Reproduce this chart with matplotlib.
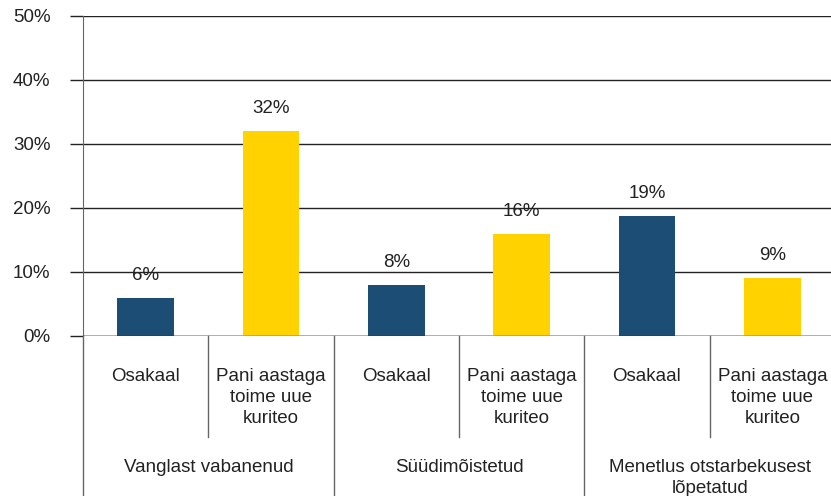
import matplotlib.pyplot as plt
import matplotlib.transforms as mtransforms
import numpy as np

plt.rcParams['font.family'] = ['Liberation Sans', 'DejaVu Sans']

# data
sub_labels = ['Osakaal', 'Pani aastaga\ntoime uue\nkuriteo'] * 3
groups = ['Vanglast vabanenud', 'Süüdimõistetud', 'Menetlus otstarbekusest\nlõpetatud']
values = [6, 32, 8, 16, 18.8, 9]
value_labels = ['6%', '32%', '8%', '16%', '19%', '9%']
bar_colors = ['#1b4d75', '#ffd200'] * 3

fig = plt.figure(figsize=(8.31, 4.96), dpi=100)
ax = fig.add_axes([83 / 831, 1 - 336 / 496, 752 / 831, 320 / 496])

x = np.arange(len(values))
ax.bar(x, values, width=0.45, color=bar_colors, zorder=3)
for xi, v, lab in zip(x, values, value_labels):
    ax.text(xi, v + 3.5, lab, ha='center', va='center', fontsize=13.5, color='#222222')

ax.set_xlim(-0.5, len(values) - 0.5)
ax.set_ylim(0, 50)
ax.set_yticks(np.arange(0, 51, 10))
ax.set_yticklabels([f'{t}%' for t in range(0, 51, 10)], fontsize=13.5, color='#222222')
ax.tick_params(axis='y', length=9.4, width=1, color='#222222', pad=14)
ax.yaxis.grid(True, color='#222222', linewidth=1, zorder=0)
ax.set_xticks([])

for s in ['top', 'right', 'bottom']:
    ax.spines[s].set_visible(False)
ax.spines['left'].set_color('#666666')
ax.axhline(0, color='#222222', linewidth=1, zorder=4)

trans = mtransforms.blended_transform_factory(ax.transData, ax.transAxes)

# sub category labels
for xi, lab in zip(x, sub_labels):
    ax.text(xi, -0.1, lab, transform=trans, ha='center', va='top',
            fontsize=13.5, color='#222222', linespacing=1.3)

# group labels
for gi, g in enumerate(groups):
    ax.text(2 * gi + 0.5, -0.385, g, transform=trans, ha='center', va='top',
            fontsize=13.5, color='#222222', linespacing=1.3)

# separators
for b in np.arange(-0.5, len(values), 1.0):
    if b < 0 or int(b + 0.5) % 2 == 0:
        y_end = -0.5
    else:
        y_end = -0.316
    ax.plot([b, b], [0, y_end], transform=trans, color='#666666', linewidth=1,
            clip_on=False)

fig.savefig('out.png', dpi=100)
